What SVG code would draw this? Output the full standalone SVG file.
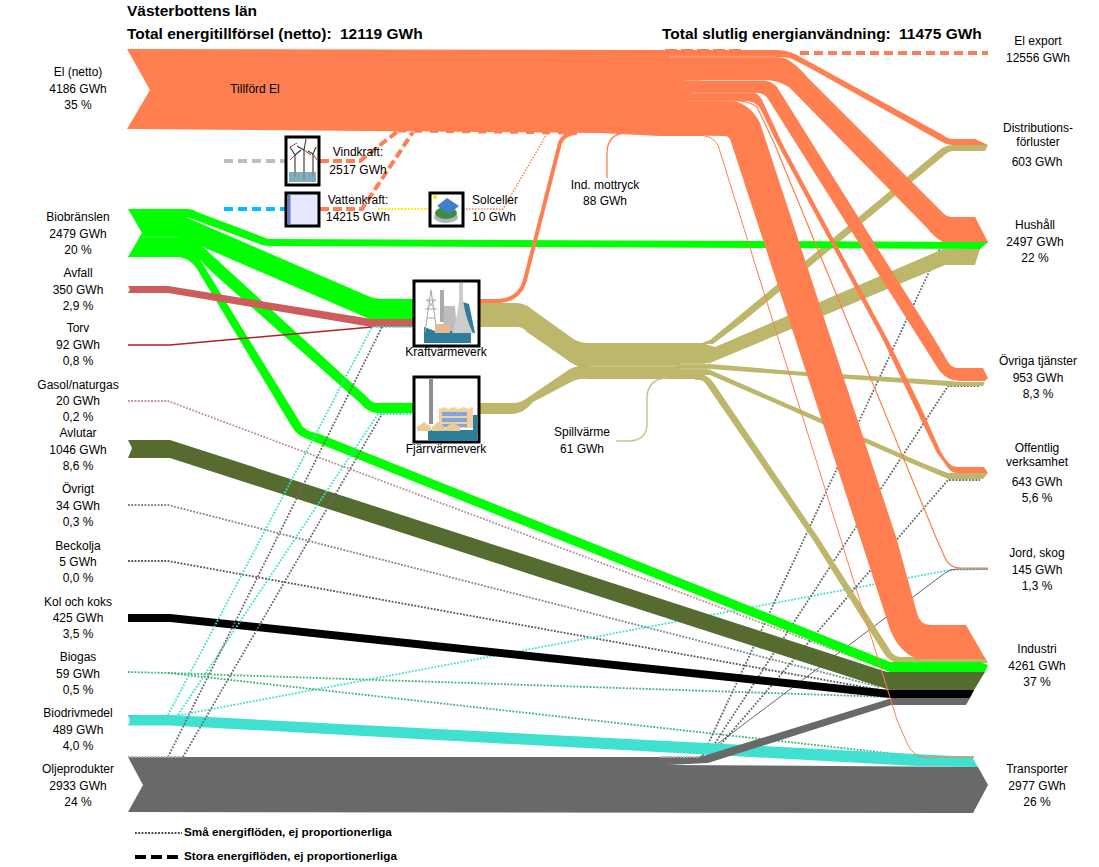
<svg xmlns="http://www.w3.org/2000/svg" width="1099" height="867" viewBox="0 0 1099 867">
<style>
text{font-family:"Liberation Sans",Arial,sans-serif;font-size:12px;fill:#000;text-anchor:middle}
.t{font-size:15.5px;font-weight:bold;text-anchor:start}
.l{font-size:11.7px;font-weight:bold;text-anchor:start}
.o{fill:#FF7F50}.k{fill:#BDB76B}.g{fill:#00FF00}
.d{fill:none;stroke-width:1.8;stroke-dasharray:1.8 1.5}
.box{fill:#fff;stroke:#000;stroke-width:3}
.gap{fill:none;stroke:#FFB090;stroke-width:.7}
</style>
<rect width="1099" height="867" fill="#fff"/>
<g id="connectors">
<path class="d" stroke="#BC8F8F" d="M128,401H168L885,669"/>
<path class="d" stroke="#6E8B8B" d="M128,505H168L880,687"/>
<path class="d" stroke="#555" d="M128,561H168L880,690"/>
<path class="d" stroke="#3CB371" d="M128,672L168,673L890,697"/>
<path class="d" stroke="#3CB371" d="M168,673L923,757H975"/>
<path class="d" stroke="#40E0D0" d="M175,716L950,570L988,569"/>
<path class="d" stroke="#666" d="M660,757H702L943,242H988"/>
<path class="d" stroke="#666" d="M706,757L948,386H980"/>
<path class="d" stroke="#666" d="M710,757L948,480H980"/>
<path fill="none" stroke="#666" stroke-width="1" d="M700,757L945,573Q950,569 957,569H988"/>
<path fill="none" stroke="#BEBEBE" stroke-width="4" stroke-dasharray="9 5" d="M224,161H285"/>
<path fill="none" stroke="#00BFFF" stroke-width="4" stroke-dasharray="9 5" d="M224,209H285"/>
<path fill="none" stroke="#FF7F50" stroke-width="4" stroke-dasharray="9 4" d="M320,161H360L398,131"/>
<path fill="none" stroke="#FF7F50" stroke-width="4" stroke-dasharray="9 4" d="M320,209H362L413,132"/>
<path fill="none" stroke="#FFE600" stroke-width="1.8" stroke-dasharray="1.8 1.5" d="M378,209H430"/>
<path fill="none" stroke="#FF7F50" stroke-width="1.5" stroke-dasharray="1.5 1.5" d="M463,209H503L548,132"/>
<path fill="none" stroke="#FF7F50" stroke-width="3" stroke-dasharray="8 8" d="M398,131L575,133"/>
<path fill="none" stroke="#FF7F50" stroke-width="4" stroke-dasharray="9 5" d="M800,53H988"/>
<path fill="none" stroke="#FF7F50" stroke-width="2" stroke-dasharray="12 4" d="M665,50H745"/>
<!-- khaki -->
<path class="k" d="M480,303H517Q527,304 533,310L572,338Q578,343 590,343H705V379H590Q580,378 573,381L533,402Q524,413 513,414H480V403H513Q521,403 527,398L567,371Q572,367 578,366.5Q570,363 563,357L527,332Q523,327 517,327H480Z"/>
<path class="k" d="M695,343H702L710,340L942,148Q947,145 953,145H988L985,151H953Q950,151 947,153L745,320L713,344H695Z"/>
<path class="k" d="M695,344H705L715,347L943,249H980L975,265H945L710,363H695Z"/>
<path class="k" d="M695,364H710L805,372L920,379Q950,381 960,382H985L983,386H948L920,384L805,376L710,369H695Z"/>
<path class="k" d="M695,369H708L820,418L920,462L948,473H988L983,479H948L920,467L802,415L710,375H695Z"/>
<path class="k" d="M695,375H703Q708,376 713,382L820,540L890,650Q893,656 900,657H985L988,663H898Q888,661 883,652L813,540L708,387Q704,380 700,380H695Z"/>
<path fill="none" stroke="#D6D3A2" stroke-width=".7" d="M590,366H677M680,364H712M680,369H712"/>
<path fill="none" stroke="#C8C48A" stroke-width="1.5" d="M616,441H628Q646,441 647,425V397Q648,379 667,378"/>
<!-- green -->
<path class="g" d="M128,209H180V257H128L142,233Z"/>
<path class="g" d="M175,209H188Q193,209 197,212L263,237Q266,239 270,239L988,242L980,249L270,246Q262,246 257,243L190,218Q186,217 175,217Z"/>
<path class="g" d="M175,217H185Q188,218 190,219L368,296Q374,299 380,299H413V320H372L203,247L190,243H175Z"/>
<path class="g" d="M175,240H190L203,247L367,397Q372,403 377,403H413V413H377Q367,412 360,403L213,273L200,260Q193,252 178,248H175Z"/>
<path class="g" d="M178,248Q190,249 197,255L207,271L303,427Q308,432 317,433L890,662H980L988,665L985,672H890L305,438Q297,435 292,427L200,274Q192,258 178,257Z"/>
<path fill="none" stroke="#70FF70" stroke-width=".7" d="M142,237H180"/>
<!-- other sources -->
<path fill="#CD5C5C" d="M128,286H168L372,319H413V327H372L168,293H128L130,289.5Z"/>
<path fill="none" stroke="#B22222" stroke-width="1.5" d="M128,345H170L372,327"/>
<path fill="#556B2F" d="M128,440H170L887,672H985L974,690H890L170,458H128L132,448Z"/>
<path fill="#000" d="M128,614H170L890,690H974L970,698H890L170,622H128Z"/>
<path fill="#40E0D0" d="M128,715H170L972,757L978,767L917,766L170,725.5H128L130,720Z"/>
<path fill="#696969" d="M128,757H700L892,698H970L966,705H891L708,763L668,765L978,767L988,785L973,813L128,812L143,785Z"/>
<!-- orange -->
<path class="o" d="M127,49L670,50H700V136H660L600,133L127,129L150,90Z"/>
<path class="o" d="M660,50H775Q786,50 795,54L943,135Q948,139 953,139H975L988,145H953Q948,145 944,143L808,67L790,58Q784,57 775,57H660Z"/>
<path class="o" d="M660,57H775Q785,57 790,61Q800,68 808,78L943,213Q947,217 952,217H975L988,242H943Q935,238 927,228L790,88Q780,81 768,80H660Z"/>
<path class="o" d="M660,81H767Q772,82 777,87L935,340L948,362Q952,368 958,368H983L988,378L985,381H960Q952,380 948,378Q941,374 937,367L797,145L770,102Q765,93 758,93H660Z"/>
<path class="o" d="M660,93H755Q760,95 763,102L783,145L888,340L920,405L940,450Q945,460 952,466Q955,467 960,467H984L988,473H957Q952,473 948,468L937,453L920,418L883,340L778,145L760,108Q755,101 745,101H660Z"/>
<path class="o" d="M660,101H733Q740,102 747,107Q755,113 760,123L897,540L917,613Q920,625 930,625H966L985,658V659H917Q895,650 887,620L732,145Q730,136 725,136L660,135Z"/>
<path fill="none" stroke="#FF7F50" stroke-width="1" d="M660,135.500H703Q713,137 718,145L897,720L907,743Q913,757 925,757H973"/>
<path fill="none" stroke="#FF7F50" stroke-width="1.2" d="M687,101H740Q750,102 757,107L775,145L937,540L943,553Q948,568 960,568H988"/>
<path fill="none" stroke="#FF7F50" stroke-width="4" d="M480,301H500Q520,299 525,280L560,143Q564,133 577,133"/>
<path fill="none" stroke="#FF7F50" stroke-width="1.3" d="M607,178V152Q608,134 625,133"/>
<path class="gap" d="M670,57H775M685,80.500H766M692,93H755M687,101H735"/>
<!-- small flows over the bands -->
<path class="d" stroke="#40E0D0" d="M128,716H170M168,715L372,327H413"/>
<path class="d" stroke="#40E0D0" d="M178,715L378,414H413"/>
<path class="d" stroke="#696969" d="M168,757L382,327"/>
<path class="d" stroke="#696969" d="M183,757L382,414"/>
<path class="d" stroke="#aaa" d="M128,757H183"/>
<path class="d" stroke="#bbb" d="M660,757H700"/>
</g>
<g id="node-vindkraft">
<rect class="box" x="286" y="137" width="33" height="48"/>
<rect x="289" y="172" width="27" height="10" fill="#7FAFBF"/>
<path stroke="#8A8F90" stroke-width="2" fill="none" d="M295,155V177M304,150V180M313,154V177"/>
<path stroke="#333" stroke-width="1.1" fill="none" d="M295,155L290,147M295,155L301,150M304,150L306,139M304,150L297,146M313,154L316,147M313,154L308,151"/>
<path stroke="#B04030" stroke-width="1" fill="none" d="M295,155L290,160M304,150L311,155M313,154L317,160M290,147L297,143"/>
<text x="358" y="156">Vindkraft:</text><text x="358" y="174">2517 GWh</text>
</g>
<g id="node-vattenkraft">
<rect class="box" x="286" y="193" width="33" height="33" style="fill:#E6E8FF"/>
<rect x="288" y="195" width="2.500" height="29" fill="#6A78C8"/>
<text x="358" y="204">Vattenkraft:</text><text x="358" y="221">14215 GWh</text>
</g>
<g id="node-solceller">
<rect class="box" x="430" y="193" width="33" height="33"/>
<ellipse cx="446" cy="217" rx="12" ry="6" fill="#B5B5B5"/>
<ellipse cx="446" cy="213" rx="11" ry="6" fill="#3E8E41"/>
<path d="M437,206L447,198L459,206L449,214Z" fill="#3F7FD0"/>
<circle cx="435" cy="197" r="2" fill="#FFE600"/>
<text x="495" y="204">Solceller</text><text x="494" y="221">10 GWh</text>
</g>
<g id="node-kraftvarmeverk">
<rect class="box" x="414" y="281" width="65" height="65"/>
<path fill="#2E7D9A" d="M424,327L435,331H463V302L469,304L475,333H471V343H424Z"/>
<path fill="none" stroke="#A8A8A8" stroke-width="1" d="M431,290L425,332M431,290L437,332M426,300H436M425,309H437M427,318H435M427,300L435,309M435,300L427,309"/>
<rect x="440" y="290" width="4" height="32" fill="#A9A9A9"/>
<path fill="#BDBDBD" d="M444,306H455L457,331H443Z"/>
<path fill="#CDCDCD" d="M459,283H463V300Q466,320 473,333H452Q458,315 459,300Z"/>
<rect x="435" y="324" width="15" height="9" fill="#E8B890"/>
<text x="446" y="356">Kraftvärmeverk</text>
</g>
<g id="node-fjarrvarmeverk">
<rect class="box" x="414" y="377" width="65" height="65"/>
<rect x="429" y="378" width="4" height="46" fill="#8F8F8F"/>
<path fill="#2E7D9A" d="M428,430H473V415H478V441H428Z"/>
<path fill="#F5CFA0" d="M439,409L444,407L448,409L454,407L458,409L464,407L468,409L473,407V428H439Z"/>
<path fill="#7FA8D8" d="M442,412H467V416H442ZM442,418H467V422H442ZM442,424H467V427H442Z"/>
<path fill="#EBCB95" d="M417,431V427L424,422L431,427V431ZM432,431V427L438,422L445,427V431ZM446,431V427L453,422L460,427V431Z"/>
<text x="446" y="453">Fjärrvärmeverk</text>
</g>
<g id="titles">
<text class="t" x="127" y="16">Västerbottens län</text>
<text class="t" x="127" y="39">Total energitillförsel (netto):  <tspan dx="4">12119 GWh</tspan></text>
<text class="t" x="662" y="39">Total slutlig energianvändning:  <tspan dx="4">11475 GWh</tspan></text>
</g>
<g id="node-tillford"><text x="255" y="93">Tillförd El</text></g>
<g id="node-mottryck"><text x="605" y="189">Ind. mottryck</text><text x="605" y="205">88 GWh</text></g>
<g id="node-spillvarme"><text x="582" y="436">Spillvärme</text><text x="582" y="453">61 GWh</text></g>
<g id="node-el"><text x="78" y="76">El (netto)</text><text x="78" y="93">4186 GWh</text><text x="78" y="109">35 %</text></g>
<g id="node-bio"><text x="78" y="221">Biobränslen</text><text x="78" y="238">2479 GWh</text><text x="78" y="254">20 %</text></g>
<g id="node-avfall"><text x="78" y="277">Avfall</text><text x="78" y="294">350 GWh</text><text x="78" y="310">2,9 %</text></g>
<g id="node-torv"><text x="78" y="332">Torv</text><text x="78" y="349">92 GWh</text><text x="78" y="365">0,8 %</text></g>
<g id="node-gasol"><text x="78" y="389">Gasol/naturgas</text><text x="78" y="405">20 GWh</text><text x="78" y="421">0,2 %</text></g>
<g id="node-avlutar"><text x="78" y="437">Avlutar</text><text x="78" y="454">1046 GWh</text><text x="78" y="470">8,6 %</text></g>
<g id="node-ovrigt"><text x="78" y="493">Övrigt</text><text x="78" y="510">34 GWh</text><text x="78" y="526">0,3 %</text></g>
<g id="node-beckolja"><text x="78" y="550">Beckolja</text><text x="78" y="566">5 GWh</text><text x="78" y="582">0,0 %</text></g>
<g id="node-kol"><text x="78" y="606">Kol och koks</text><text x="78" y="622">425 GWh</text><text x="78" y="638">3,5 %</text></g>
<g id="node-biogas"><text x="78" y="661">Biogas</text><text x="78" y="678">59 GWh</text><text x="78" y="694">0,5 %</text></g>
<g id="node-biodrivmedel"><text x="78" y="717">Biodrivmedel</text><text x="78" y="734">489 GWh</text><text x="78" y="750">4,0 %</text></g>
<g id="node-olja"><text x="78" y="773">Oljeprodukter</text><text x="78" y="790">2933 GWh</text><text x="78" y="806">24 %</text></g>
<g id="node-export"><text x="1038" y="45">El export</text><text x="1038" y="62">12556 GWh</text></g>
<g id="node-distribution"><text x="1038" y="132">Distributions-</text><text x="1038" y="146">förluster</text><text x="1037" y="166">603 GWh</text></g>
<g id="node-hushall"><text x="1035" y="229">Hushåll</text><text x="1035" y="246">2497 GWh</text><text x="1035" y="262">22 %</text></g>
<g id="node-tjanster"><text x="1038" y="365">Övriga tjänster</text><text x="1038" y="382">953 GWh</text><text x="1038" y="398">8,3 %</text></g>
<g id="node-offentlig"><text x="1037" y="452">Offentlig</text><text x="1037" y="466">verksamhet</text><text x="1037" y="486">643 GWh</text><text x="1037" y="502">5,6 %</text></g>
<g id="node-jord"><text x="1037" y="557">Jord, skog</text><text x="1037" y="574">145 GWh</text><text x="1037" y="590">1,3 %</text></g>
<g id="node-industri"><text x="1037" y="653">Industri</text><text x="1037" y="670">4261 GWh</text><text x="1037" y="686">37 %</text></g>
<g id="node-transporter"><text x="1037" y="773">Transporter</text><text x="1037" y="790">2977 GWh</text><text x="1037" y="806">26 %</text></g>
<g id="legend">
<path fill="none" stroke="#444" stroke-width="1.8" stroke-dasharray="1.8 1.5" d="M135,833H182"/>
<path fill="none" stroke="#000" stroke-width="4" stroke-dasharray="11 5" d="M135,857H182"/>
<text class="l" x="184" y="836">Små energiflöden, ej proportionerliga</text>
<text class="l" x="184" y="860">Stora energiflöden, ej proportionerliga</text>
</g>
</svg>
